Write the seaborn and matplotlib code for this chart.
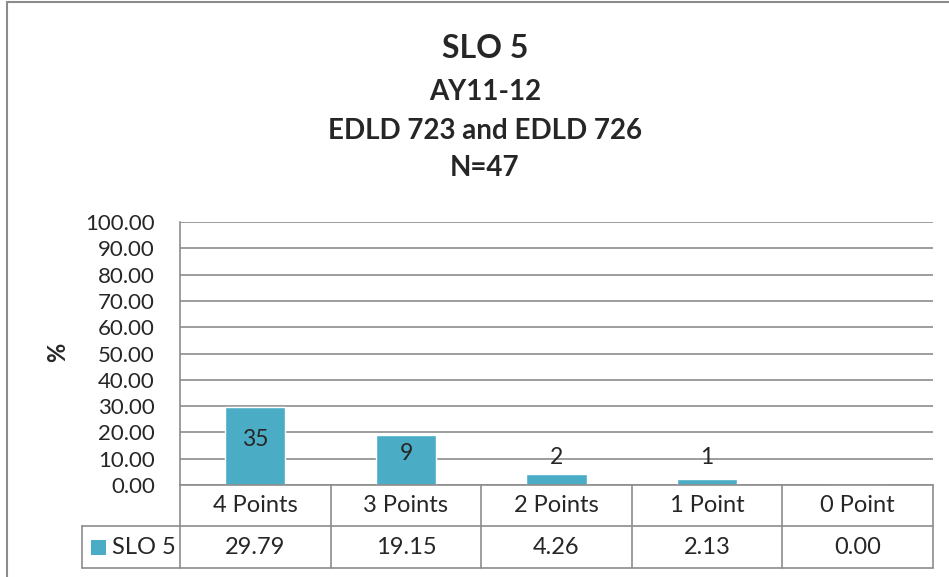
import matplotlib.pyplot as plt
import matplotlib.lines as mlines
import matplotlib.patches as mpatches
import seaborn as sns
import pandas as pd

categories = ["4 Points", "3 Points", "2 Points", "1 Point", "0 Point"]
percents = [29.79, 19.15, 4.26, 2.13, 0.00]
counts = ["35", "9", "2", "1", ""]
series_name = "SLO 5"
title_lines = ["SLO 5", "AY11-12", "EDLD 723 and EDLD 726", "N=47"]

BAR_COLOR = "#4BACC6"
LINE_COLOR = "#8c8c8c"
FONT = "Lato"

sns.set_style("white")
plt.rcParams["font.family"] = [FONT, "DejaVu Sans"]

W, H = 949, 577
fig = plt.figure(figsize=(W / 100, H / 100), dpi=100)

# plot area in pixel coordinates (from the reference)
px_left, px_right, px_top, px_bottom = 180, 933, 222, 485
ax = fig.add_axes([px_left / W, (H - px_bottom) / H,
                   (px_right - px_left) / W, (px_bottom - px_top) / H])

df = pd.DataFrame({"category": categories, "percent": percents})
sns.barplot(data=df, x="category", y="percent", color=BAR_COLOR,
            saturation=1, width=0.4, ax=ax, zorder=3)

ax.set_ylim(0, 100)
ax.set_xlim(-0.5, len(categories) - 0.5)
ax.set_yticks(range(0, 101, 10))
ax.set_yticklabels([f"{v:.2f}" for v in range(0, 101, 10)], fontsize=16)
ax.tick_params(axis="y", length=0, pad=18)
ax.set_xticks([])
ax.set_xlabel("")
ax.set_ylabel("")
ax.grid(axis="y", color=LINE_COLOR, linewidth=1.2, zorder=0)
for side in ["top", "right", "bottom"]:
    ax.spines[side].set_visible(False)
ax.spines["left"].set_color(LINE_COLOR)
ax.spines["left"].set_linewidth(1.2)

# count labels on the bars
for i, (p, c) in enumerate(zip(percents, counts)):
    y = max(p / 2 + 2.5, 10.3)
    ax.text(i, y, c, ha="center", va="center", fontsize=16.5, zorder=4)

# data table below the plot
row_h = 41
rows_y = [px_bottom, px_bottom + row_h, px_bottom + 2 * row_h + 1]
legend_left = 82
col_w = (px_right - px_left) / len(categories)


def fx(x):
    return x / W


def fy(y):
    return (H - y) / H


def hline(x0, x1, y):
    fig.add_artist(mlines.Line2D([fx(x0), fx(x1)], [fy(y), fy(y)],
                                 color=LINE_COLOR, linewidth=1.2))


def vline(x, y0, y1):
    fig.add_artist(mlines.Line2D([fx(x), fx(x)], [fy(y0), fy(y1)],
                                 color=LINE_COLOR, linewidth=1.2))


hline(px_left, px_right, rows_y[0])
hline(legend_left, px_right, rows_y[1])
hline(legend_left, px_right, rows_y[2])
vline(legend_left, rows_y[1], rows_y[2])
for i in range(len(categories) + 1):
    vline(px_left + i * col_w, rows_y[0], rows_y[2])

for i, (cat, p) in enumerate(zip(categories, percents)):
    cx = px_left + (i + 0.5) * col_w
    fig.text(fx(cx), fy((rows_y[0] + rows_y[1]) / 2), cat,
             ha="center", va="center", fontsize=17)
    fig.text(fx(cx), fy((rows_y[1] + rows_y[2]) / 2), f"{p:.2f}",
             ha="center", va="center", fontsize=17)

mid2 = (rows_y[1] + rows_y[2]) / 2
fig.add_artist(mpatches.Rectangle((fx(91), fy(mid2 + 7.5)), 15 / W, 15 / H,
                                  facecolor=BAR_COLOR, edgecolor="none"))
fig.text(fx(112), fy(mid2), series_name, ha="left", va="center", fontsize=17)

# y axis title
fig.text(fx(58), fy(352), "%", rotation=90, ha="center", va="center",
         fontsize=17, fontweight="bold")

# titles
title_y = [48, 92, 131, 168]
title_sizes = [23, 20, 20, 20]
for txt, y, s in zip(title_lines, title_y, title_sizes):
    fig.text(fx(485), fy(y), txt, ha="center",
             va="center", fontsize=s, fontweight="bold")

# outer chart border
fig.add_artist(mlines.Line2D([fx(7), fx(7)], [fy(2), fy(H)],
                             color=LINE_COLOR, linewidth=1.5))
fig.add_artist(mlines.Line2D([fx(7), fx(W)], [fy(2), fy(2)],
                             color=LINE_COLOR, linewidth=1.5))

fig.savefig("out.png", dpi=100)
plt.close(fig)
